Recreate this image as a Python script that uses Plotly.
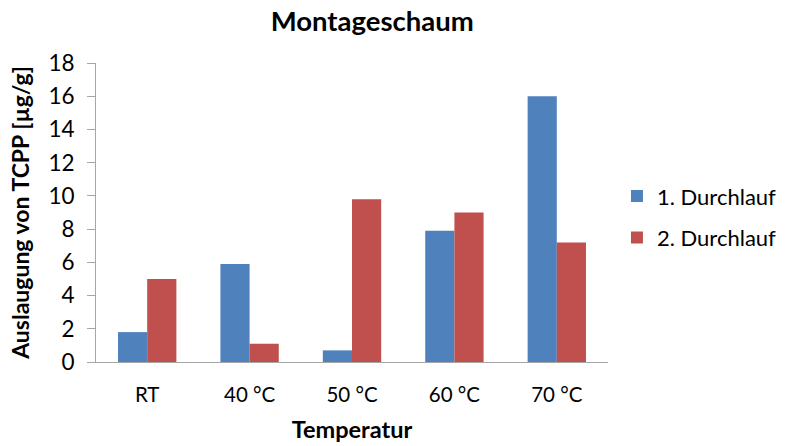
import plotly.graph_objects as go

categories = ["RT", "40 °C", "50 °C", "60 °C", "70 °C"]
run1 = [1.8, 5.9, 0.7, 7.9, 16.0]
run2 = [5.0, 1.1, 9.8, 9.0, 7.2]
series_names = ["1. Durchlauf", "2. Durchlauf"]
colors = ["#4F81BD", "#C0504D"]

FONT = "Lato"

fig = go.Figure()
for i, (vals, name) in enumerate(zip([run1, run2], series_names)):
    fig.add_trace(go.Bar(
        x=categories, y=vals, name=name,
        marker=dict(color=colors[i], line=dict(width=0)),
        legendgroup=f"g{i}",
    ))

fig.update_layout(
    width=792, height=446,
    margin=dict(l=96, r=184, t=63, b=84),
    paper_bgcolor="white", plot_bgcolor="white",
    barmode="group", bargap=0.43, bargroupgap=0,
    font=dict(family=FONT, color="#000000", size=20),
    title=dict(text="<b>Montageschaum</b>", x=0.47, xanchor="center",
               y=0.953, yanchor="middle", font=dict(size=27.5, family=FONT)),
    showlegend=True,
    legend=dict(xref="container", yref="container", x=0.779, xanchor="left",
                y=0.513, yanchor="middle",
                font=dict(size=22, family=FONT), tracegroupgap=10,
                itemwidth=30, bgcolor="rgba(0,0,0,0)"),
    xaxis=dict(
        title=dict(text="<b>Temperatur</b>", font=dict(size=23.5, family=FONT), standoff=16),
        showline=True, linecolor="#A6A6A6", linewidth=1, automargin=False,
        ticks="", showgrid=False, tickfont=dict(size=20.5), ticklabelstandoff=14,
    ),
    yaxis=dict(
        title=dict(text="<b>Auslaugung von TCPP [µg/g]</b>", font=dict(size=23, family=FONT), standoff=12),
        range=[0, 18], dtick=2, showline=True, linecolor="#A6A6A6", linewidth=1,
        automargin=False,
        ticks="outside", ticklen=8, tickcolor="#A6A6A6", showgrid=False,
        tickfont=dict(size=22.5), zeroline=False, ticklabelstandoff=8,
    ),
)

fig.write_html("out.html")
